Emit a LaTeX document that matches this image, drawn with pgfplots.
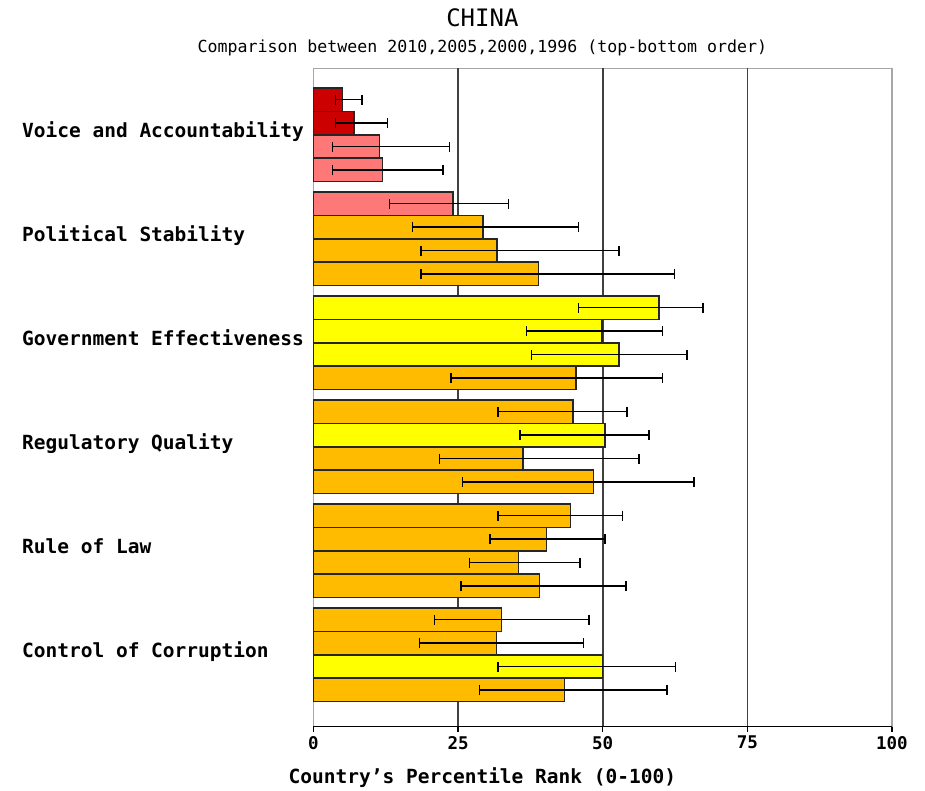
\documentclass[border=0pt]{standalone}
\usepackage{pgfplots}
\pgfplotsset{compat=1.18}
\usepackage{pgfplotstable}
\usepackage{fontspec}
\setmainfont{DejaVu Sans Mono}
\definecolor{cdark}{HTML}{CC0000}
\definecolor{clight}{HTML}{FF7878}
\definecolor{corange}{HTML}{FFBB00}
\definecolor{cyellow}{HTML}{FFFF00}

% y = bar centre (top-bottom), v = percentile rank, lo/hi = error range
\pgfplotstableread{
y v lo hi
99.7 5.0 3.8 8.4
123.1 7.0 3.8 12.8
}\darkred
\pgfplotstableread{
y v lo hi
146.5 11.4 3.3 23.5
169.9 11.9 3.3 22.4
203.7 24.1 13.1 33.7
}\lightred
\pgfplotstableread{
y v lo hi
307.7 59.7 45.8 67.3
331.1 49.9 36.8 60.3
354.5 52.8 37.7 64.6
435.1 50.4 35.7 58.0
666.5 50.0 31.9 62.6
}\yellowbars
\pgfplotstableread{
y v lo hi
227.1 29.3 17.1 45.8
250.5 31.7 18.6 52.8
273.9 38.9 18.6 62.4
377.9 45.4 23.8 60.3
411.7 44.9 31.9 54.2
458.5 36.2 21.8 56.3
481.9 48.4 25.8 65.8
515.7 44.4 31.9 53.4
539.1 40.3 30.5 50.4
562.5 35.4 27.0 46.1
585.9 39.1 25.5 54.0
619.7 32.5 20.9 47.6
643.1 31.6 18.3 46.7
689.9 43.4 28.7 61.1
}\orangebars

\begin{document}
\begin{tikzpicture}
\begin{axis}[
  scale only axis, width=578.5pt, height=658.4pt,
  xmin=0, xmax=100, ymin=68.3, ymax=726.7, y dir=reverse,
  clip=false,
  axis line style={draw=black!35, line width=1.5pt},
  xtick={0,25,50,75,100}, xtick pos=bottom, tick align=outside, major tick length=5pt,
  x tick style={black, line width=1.5pt},
  ytick=\empty,
  /pgf/number format/assume math mode=true,
  xticklabel style={font=\fontsize{17.5}{18}\selectfont\bfseries, yshift=-1pt},
  extra x ticks={25,50,75}, extra x tick labels={},
  extra x tick style={grid=major, major grid style={draw=black!75, line width=1.6pt}, major tick length=0pt},
  every axis plot/.append style={xbar, bar shift=0pt, bar width=23.4, draw=black!85, line width=1.5pt,
    /pgfplots/error bars/x dir=both, /pgfplots/error bars/x explicit,
    /pgfplots/error bars/error bar style={black, line width=1.5pt},
    /pgfplots/error bars/error mark options={black, mark size=5pt, line width=1.5pt, rotate=90}},
]
\addplot[fill=cdark] table[x=v, y=y, x error plus expr=\thisrow{hi}-\thisrow{v}, x error minus expr=\thisrow{v}-\thisrow{lo}] \darkred;
\addplot[fill=clight] table[x=v, y=y, x error plus expr=\thisrow{hi}-\thisrow{v}, x error minus expr=\thisrow{v}-\thisrow{lo}] \lightred;
\addplot[fill=cyellow] table[x=v, y=y, x error plus expr=\thisrow{hi}-\thisrow{v}, x error minus expr=\thisrow{v}-\thisrow{lo}] \yellowbars;
\addplot[fill=corange] table[x=v, y=y, x error plus expr=\thisrow{hi}-\thisrow{v}, x error minus expr=\thisrow{v}-\thisrow{lo}] \orangebars;

\draw[black, line width=1.5pt] (axis cs:0,726.7) -- (axis cs:100,726.7);

\path (axis cs:-54.19,0) rectangle (axis cs:105.71,787);

\node[anchor=base, font=\fontsize{24}{26}\selectfont] at (axis cs:29.2,26.7) {CHINA};
\node[anchor=base, font=\fontsize{16.6}{18}\selectfont] at (axis cs:29.2,52.5) {Comparison between 2010,2005,2000,1996 (top-bottom order)};
\node[anchor=base, font=\fontsize{19.5}{20}\selectfont\bfseries] at (axis cs:29.2,783.3) {Country’s Percentile Rank (0-100)};

\begin{scope}[every node/.style={anchor=base west, inner sep=0pt, font=\fontsize{19.5}{20}\selectfont\bfseries}]
\node at (axis cs:-50.4,137.3) {Voice and Accountability};
\node at (axis cs:-50.4,241.3) {Political Stability};
\node at (axis cs:-50.4,345.3) {Government Effectiveness};
\node at (axis cs:-50.4,449.3) {Regulatory Quality};
\node at (axis cs:-50.4,553.3) {Rule of Law};
\node at (axis cs:-50.4,657.3) {Control of Corruption};
\end{scope}
\end{axis}
\end{tikzpicture}
\end{document}
